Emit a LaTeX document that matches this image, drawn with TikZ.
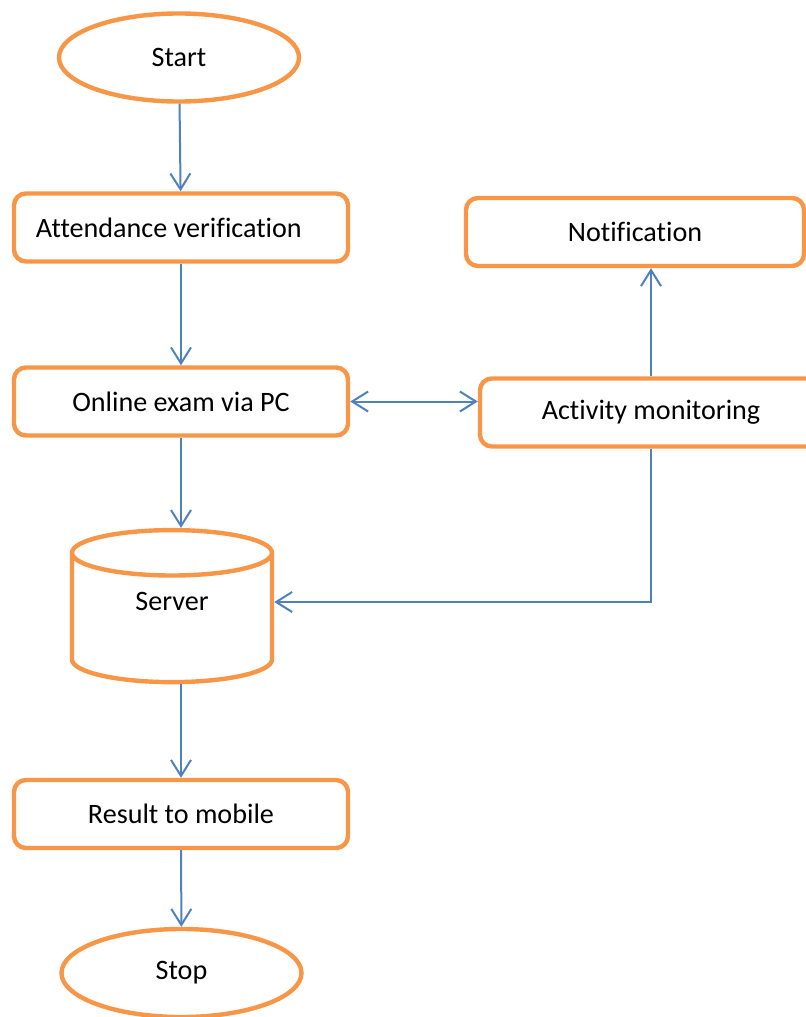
\documentclass[tikz,border=0pt]{standalone}
\usepackage{fontspec}
\setmainfont{Carlito}[Ligatures=NoCommon]
\usetikzlibrary{shapes.geometric,arrows.meta}
\definecolor{boxorange}{RGB}{247,150,70}
\definecolor{lineblue}{RGB}{79,129,189}
\tikzset{
  flowbox/.style={draw=boxorange, line width=0.11cm, rounded corners=0.3cm,
    minimum width=8.35cm, minimum height=1.7cm, font=\fontsize{20}{24}\selectfont},
  terminal/.style={ellipse, draw=boxorange, line width=0.11cm,
    minimum width=6.0cm, minimum height=2.2cm, font=\fontsize{20}{24}\selectfont},
  store/.style={cylinder, shape border rotate=90, draw=boxorange, line width=0.11cm,
    aspect=0.55, minimum width=5cm, minimum height=3.8cm, text depth=1.05cm,
    font=\fontsize{20}{24}\selectfont},
  flow/.style={draw=lineblue, line width=0.05cm, -{Straight Barb[length=0.4cm,width=0.5cm]}}
}
\begin{document}
\begin{tikzpicture}[x=0.025cm, y=-0.025cm]
        \useasboundingbox (0,0) rectangle (806,1017);

        % Colonna principale
        \node[terminal] (start) at (179,57.5) {Start};
        \node[flowbox] (attend) at (181,227.5) {\makebox[7.25cm][l]{Attendance verification}};
        \node[flowbox] (online) at (181,401.5) {Online exam via PC};
        \node[store] (server) at (172,622) {Server};
        \node[flowbox] (result) at (181,814) {Result to mobile};
        \node[terminal] (stop) at (181.5,973) {Stop};

        % Colonna di destra
        \node[flowbox, minimum width=8.45cm] (notif) at (635,232) {Notification};
        \node[flowbox, minimum width=8.55cm] (activity) at (651,412.5) {Activity monitoring};

        % Frecce
        \draw[flow] (start) -- (attend);
        \draw[flow] (attend) -- (online);
        \draw[flow] (online.south) -- (online.south |- server.north);
        \draw[flow] (result.north |- server.south) -- (result.north);
        \draw[flow] (result) -- (stop);
        \draw[flow, {Straight Barb[length=0.4cm,width=0.5cm]}-{Straight Barb[length=0.4cm,width=0.5cm]}] (online.east) -- (online.east -| activity.west);
        \draw[flow] (activity.north) -- (activity.north |- notif.south);
        \draw[flow] (activity.south) |- ([yshift=0.5cm]server.east);
\end{tikzpicture}
\end{document}
